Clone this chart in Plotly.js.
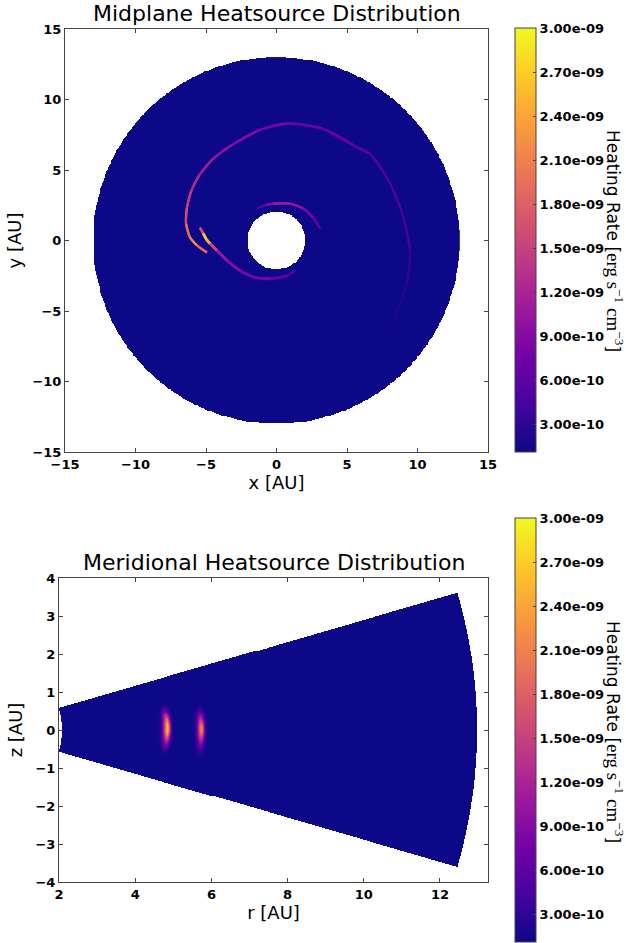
<!DOCTYPE html>
<html><head><meta charset="utf-8">
<script src="https://cdn.plot.ly/plotly-3.0.1.min.js"></script>
<style>html,body{margin:0;padding:0;background:#fff}#chart{width:626px;height:943px}</style>
</head><body><div id="chart"></div>
<script>
// ---------------- data ----------------
const colorMin = 1.1e-10, colorMax = 3.0e-9;
const backgroundRate = 1.1e-10;
const cbTickVals = [3e-10, 6e-10, 9e-10, 1.2e-9, 1.5e-9, 1.8e-9, 2.1e-9, 2.4e-9, 2.7e-9, 3e-9];
const cbTickText = ['3.00e-10','6.00e-10','9.00e-10','1.20e-09','1.50e-09','1.80e-09','2.10e-09','2.40e-09','2.70e-09','3.00e-09'];

// midplane disk extent [AU]
const diskInner = 2.05, diskOuter = 13.0;

// outer spiral arm (midplane)
const outerArmX = [-4.93, -5.64, -6.13, -6.42, -6.35, -6.05, -5.5, -4.5, -3.2, -1.3, 0.75, 3.3, 5.69, 6.63, 7.95, 8.9, 9.47, 9.23, 8.4, 8.2];
const outerArmY = [-0.85, -0.35, 0.21, 1.21, 2.34, 3.5, 4.6, 5.8, 6.75, 7.8, 8.3, 7.92, 6.62, 6.15, 4.26, 2.0, -0.71, -3.07, -5.44, -5.9];
const outerArmRate = [7e-10, 1.9e-9, 2.2e-9, 1.9e-9, 1.6e-9, 1.4e-9, 1.25e-9, 1.1e-9, 1.0e-9, 9e-10, 8e-10, 7e-10, 6.5e-10, 6e-10, 5e-10, 4.5e-10, 4e-10, 3e-10, 2e-10, 1.5e-10];

// bright streak running into the lower inner arm
const streakX = [-5.43, -5.2, -4.95, -4.72, -4.22, -3.51, -2.59, -1.6, -0.46, 0.74, 1.31];
const streakY = [0.92, 0.5, 0.05, -0.21, -0.71, -1.42, -2.13, -2.6, -2.72, -2.5, -2.13];
const streakRate = [4e-10, 1.6e-9, 2.7e-9, 2.4e-9, 1.5e-9, 1.0e-9, 9e-10, 8.5e-10, 8e-10, 6e-10, 3e-10];

// upper inner arm
const innerArmX = [-1.38, -0.8, -0.25, 0.96, 1.88, 2.59, 3.09];
const innerArmY = [2.27, 2.5, 2.62, 2.62, 2.27, 1.63, 0.85];
const innerArmRate = [3e-10, 6e-10, 9e-10, 1.1e-9, 1.0e-9, 8e-10, 4e-10];

// meridional wedge extent
const wedgeInner = 2.09, wedgeOuter = 12.96, wedgeHalfAngleDeg = 16.15;

// meridional hot spots, values in units of 1e-10 erg s^-1 cm^-3
const blobUnit = 1e-10;
const blobZ = [-0.7, -0.6, -0.5, -0.4, -0.3, -0.2, -0.1, 0.0, 0.1, 0.2, 0.3, 0.4, 0.5, 0.6, 0.7];
const blob1R = [4.60, 4.65, 4.70, 4.75, 4.80, 4.85, 4.90, 4.95, 5.00];
const blob1Rate = [
  [1.1,1.1,1.1,1.1,1.1,1.1,1.1,1.1,1.1],
  [1.1,1.2,1.6,2.0,1.8,1.4,1.1,1.1,1.1],
  [1.2,1.6,2.6,3.8,3.6,2.6,1.5,1.1,1.1],
  [1.3,2.2,4.5,7.0,7.5,5.5,2.8,1.3,1.1],
  [1.4,2.6,5.5,9.5,12,10,5.5,1.8,1.1],
  [1.4,2.8,6.5,12,17,16,9,2.8,1.2],
  [1.4,2.9,7,14,22,23,13,3.5,1.2],
  [1.4,3,7.5,15,25,27,16,4,1.3],
  [1.4,3,7.5,15,25,27,16,4,1.3],
  [1.4,3,7.5,15,23,24,13,3.5,1.2],
  [1.4,3,7.5,14,19,17,9,2.5,1.2],
  [1.4,2.8,7,12,13,10,5,1.6,1.1],
  [1.3,2.4,5.5,7.5,7,5,2.4,1.2,1.1],
  [1.2,1.6,3,3.8,3.2,2.2,1.4,1.1,1.1],
  [1.1,1.2,1.4,1.6,1.4,1.2,1.1,1.1,1.1]
];
const blob2R = [5.50, 5.55, 5.60, 5.65, 5.70, 5.75, 5.80, 5.85, 5.90];
const blob2Rate = [
  [1.1,1.1,1.2,1.3,1.3,1.2,1.1,1.1,1.1],
  [1.1,1.2,1.5,2.0,2.2,1.8,1.3,1.1,1.1],
  [1.1,1.4,2.4,3.6,4.2,3.4,2.0,1.2,1.1],
  [1.2,1.8,3.6,6.0,7.0,5.8,3.0,1.4,1.1],
  [1.2,2.0,4.5,8.5,11,9.5,5,1.8,1.1],
  [1.2,2.2,5.2,11,15,14,7.5,2.4,1.2],
  [1.2,2.3,5.8,13,19,19,10,3,1.2],
  [1.2,2.4,6,14,21,22,12,3.4,1.3],
  [1.2,2.4,6,14,21,21,11,3.2,1.2],
  [1.2,2.3,5.8,13,18,17,9,2.6,1.2],
  [1.2,2.2,5.2,11,13.5,12,6,2,1.1],
  [1.2,2,4.2,8,9,7.5,3.8,1.5,1.1],
  [1.1,1.6,3,5,5,4,2.2,1.2,1.1],
  [1.1,1.3,1.8,2.6,2.6,2.0,1.4,1.1,1.1],
  [1.1,1.1,1.3,1.4,1.4,1.3,1.1,1.1,1.1]
];

// ---------------- styling / helpers ----------------
const FONT = 'DejaVu Sans';
const plasmaStops = [[0,'#0d0887'],[0.111,'#46039f'],[0.222,'#7201a8'],[0.333,'#9c179e'],[0.444,'#bd3786'],[0.556,'#d8576b'],[0.667,'#ed7953'],[0.778,'#fb9f3a'],[0.889,'#fdca26'],[1,'#f0f921']];
function hexRgb(h){return [parseInt(h.substr(1,2),16),parseInt(h.substr(3,2),16),parseInt(h.substr(5,2),16)];}
function plasma(v){
  let t=(v-colorMin)/(colorMax-colorMin); t=Math.max(0,Math.min(1,t));
  for(let i=1;i<plasmaStops.length;i++){
    if(t<=plasmaStops[i][0]){
      const a=plasmaStops[i-1], b=plasmaStops[i];
      const f=(t-a[0])/(b[0]-a[0]); const ca=hexRgb(a[1]), cb=hexRgb(b[1]);
      return 'rgb('+ca.map((c,k)=>Math.round(c+(cb[k]-c)*f)).join(',')+')';
    }
  }
  return plasmaStops[plasmaStops.length-1][1];
}

const traces = [];

// midplane disk background (grid masked to the annulus)
const gstep = 0.06;
const gx = []; for(let v=-diskOuter; v<=diskOuter+1e-9; v+=gstep) gx.push(+v.toFixed(4));
const diskZ = gx.map(y => gx.map(x => { const r=Math.hypot(x,y); return (r>=diskInner && r<=diskOuter)?backgroundRate:null; }));

function colorbar(yBottom){
  return {
    x: 515/626, xanchor:'left', xref:'paper',
    y: yBottom, yanchor:'bottom', yref:'paper', len: 424/943, lenmode:'fraction',
    thickness: 21, thicknessmode:'pixels',
    outlinewidth:1, outlinecolor:'#444', xpad:0, ypad:0,
    tickvals: cbTickVals, ticktext: cbTickText,
    ticks:'inside', ticklen:3, tickcolor:'#444',
    tickfont:{family:FONT, size:13, color:'#000', weight:'bold'},
    title:{text:''}
  };
}

traces.push({
  type:'heatmap', x:gx, y:gx, z:diskZ, xaxis:'x', yaxis:'y',
  colorscale:plasmaStops, zmin:colorMin, zmax:colorMax, hoverinfo:'skip',
  colorbar: colorbar((943-452)/943)
});

// arms: overlapping 3-point spline pieces, each coloured by its central value
function addArm(xs, ys, vs, w){
  const n = xs.length;
  for(let i=0;i<n-1;i++){
    const idx = (i===0)?[0,1]:[i-1,i,i+1];
    traces.push({type:'scatter', mode:'lines', x:idx.map(k=>xs[k]), y:idx.map(k=>ys[k]),
      xaxis:'x', yaxis:'y', line:{color:plasma(i===0?(vs[0]+vs[1])/2:vs[i]), width:w, shape:'spline', smoothing:1},
      hoverinfo:'skip', showlegend:false});
  }
  traces.push({type:'scatter', mode:'lines', x:[xs[n-2],xs[n-1]], y:[ys[n-2],ys[n-1]],
    xaxis:'x', yaxis:'y', line:{color:plasma((vs[n-2]+vs[n-1])/2), width:w}, hoverinfo:'skip', showlegend:false});
}
addArm(outerArmX, outerArmY, outerArmRate, 2.2);
addArm(innerArmX, innerArmY, innerArmRate, 2.2);
addArm(streakX, streakY, streakRate, 2.6);

// meridional wedge background
const rstep = 0.026;
const wr = []; for(let v=2.0; v<=13.0+1e-9; v+=rstep) wr.push(+v.toFixed(4));
const wz = []; for(let v=-3.8; v<=3.8+1e-9; v+=rstep) wz.push(+v.toFixed(4));
const tmax = wedgeHalfAngleDeg*Math.PI/180;
const wedgeZ = wz.map(z => wr.map(r => { const R=Math.hypot(r,z); const th=Math.abs(Math.atan2(z,r)); return (R>=wedgeInner && R<=wedgeOuter && th<=tmax)?backgroundRate:null; }));
traces.push({
  type:'heatmap', x:wr, y:wz, z:wedgeZ, xaxis:'x2', yaxis:'y2',
  colorscale:plasmaStops, zmin:colorMin, zmax:colorMax, hoverinfo:'skip',
  colorbar: colorbar(1/943)
});
[[blob1R, blob1Rate],[blob2R, blob2Rate]].forEach(([rs, m]) => {
  traces.push({type:'heatmap', x:rs, y:blobZ, z:m.map(row=>row.map(v=>v*blobUnit)), xaxis:'x2', yaxis:'y2',
    colorscale:plasmaStops, zmin:colorMin, zmax:colorMax, zsmooth:'best', showscale:false, hoverinfo:'skip'});
});

const tickFont = {family:FONT, size:13, color:'#000', weight:'bold'};
function ax(extra){
  return Object.assign({
    showgrid:false, zeroline:false, showline:true, linecolor:'#444', linewidth:1, mirror:'allticks',
    ticks:'inside', ticklen:4, tickcolor:'#444', tickfont:tickFont, fixedrange:true
  }, extra);
}
const cbTitle = 'Heating Rate [<span style="font-family:\'Liberation Serif\';font-size:19px">erg s<sup>−1</sup> cm<sup>−3</sup></span>]';

const layout = {
  width:626, height:943, margin:{l:0,r:0,t:0,b:0, autoexpand:false},
  paper_bgcolor:'#fff', plot_bgcolor:'#fff', showlegend:false,
  font:{family:FONT, color:'#000'},
  xaxis: ax({domain:[65/626, 488/626], range:[-15,15], tickvals:[-15,-10,-5,0,5,10,15], anchor:'y',
    title:{text:'x [AU]', font:{family:FONT, size:18}, standoff:4}}),
  yaxis: ax({domain:[(943-452)/943, (943-29)/943], range:[-15,15], tickvals:[-15,-10,-5,0,5,10,15], anchor:'x',
    title:{text:'y [AU]', font:{family:FONT, size:18}, standoff:6}}),
  xaxis2: ax({domain:[59/626, 488/626], range:[2,13.26], tickvals:[2,4,6,8,10,12], anchor:'y2',
    title:{text:'r [AU]', font:{family:FONT, size:18}, standoff:4}}),
  yaxis2: ax({domain:[(943-882)/943, (943-578)/943], range:[-4,4], tickvals:[-4,-3,-2,-1,0,1,2,3,4], anchor:'x2',
    title:{text:'z [AU]', font:{family:FONT, size:18}, standoff:8}}),
  annotations:[
    {text:'Midplane Heatsource Distribution', xref:'paper', yref:'paper', x:276.5/626, y:(943-28)/943, xanchor:'center', yanchor:'bottom', showarrow:false, font:{family:FONT, size:22, color:'#000'}},
    {text:'Meridional Heatsource Distribution', xref:'paper', yref:'paper', x:273.5/626, y:(943-577)/943, xanchor:'center', yanchor:'bottom', showarrow:false, font:{family:FONT, size:22, color:'#000'}},
    {text:cbTitle, textangle:90, xref:'paper', yref:'paper', x:615/626, y:(943-241)/943, xanchor:'center', yanchor:'middle', showarrow:false, font:{family:FONT, size:17, color:'#000'}},
    {text:cbTitle, textangle:90, xref:'paper', yref:'paper', x:615/626, y:(943-732)/943, xanchor:'center', yanchor:'middle', showarrow:false, font:{family:FONT, size:17, color:'#000'}}
  ]
};

Plotly.newPlot('chart', traces, layout, {staticPlot:true});
</script>
</body></html>
